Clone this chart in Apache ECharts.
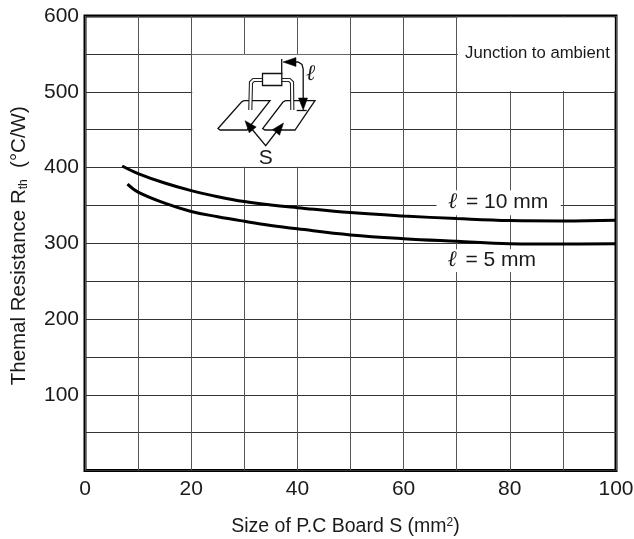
<!DOCTYPE html>
<html><head><meta charset="utf-8">
<style>html,body{margin:0;padding:0;background:#fff}#c{width:634px;height:539px}</style>
<script src="https://cdn.jsdelivr.net/npm/echarts@6/dist/echarts.min.js"></script>
</head><body><div id="c"></div>
<script>
const xValues10 = [7, 10, 15, 20, 25, 30, 35, 40, 50, 60, 70, 80, 90, 100];
const rth10 = [402, 392, 379.5, 369.5, 361.5, 355, 350.5, 347, 340.5, 336, 332.6, 330, 329.5, 330.5];
const xValues5 = [8, 10, 15, 20, 25, 30, 35, 40, 50, 60, 70, 80, 90, 100];
const rth5 = [378, 367.5, 353, 342, 335, 329, 323.5, 319, 311, 306, 302.6, 299.5, 299, 299.5];
const xTickLabels = [0, 20, 40, 60, 80, 100];
const yTickLabels = [100, 200, 300, 400, 500, 600];
const FONT = '"Liberation Sans", Arial, sans-serif';
const INK = '#1a1a1a';
const zip = (a, b) => a.map((v, i) => [v, b[i]]);
const mask = (x0, y0, x1, y1) => [{xAxis: x0, yAxis: y0}, {xAxis: x1, yAxis: y1}];
const curve = (name, data) => ({
  name, type: 'line', data, smooth: 0.4, showSymbol: false, z: 5,
  lineStyle: {color: '#000', width: 3, cap: 'butt'}
});
const black = {stroke: '#111', fill: 'none', lineWidth: 1.3};
const line = (pts, style) => ({type: 'polyline', shape: {points: pts}, style: Object.assign({}, black, style), z: 20, silent: true});
const head = (pts) => ({type: 'polygon', shape: {points: pts}, style: {fill: '#000', stroke: '#000', lineWidth: 0.5}, z: 22, silent: true});
const lead = (pts) => [line(pts, {lineWidth: 4.2, stroke: '#222'}), line(pts, {lineWidth: 2, stroke: '#fff'})];
const curveLabel = (coord, text) => ({coord, label: {show: true, position: 'inside', formatter: '{l|ℓ}{t|' + text + '}', rich: {
  l: {fontFamily: 'DejaVu Serif', fontStyle: 'italic', fontSize: 22, color: INK, padding: [0, 3, 0, 0]},
  t: {fontFamily: FONT, fontSize: 21, color: INK}}}});

const chart = echarts.init(document.getElementById('c'), null, {renderer: 'canvas'});
chart.setOption({
  animation: false,
  backgroundColor: '#fff',
  textStyle: {fontFamily: FONT},
  grid: {left: 85, right: 18, top: 16, bottom: 68.5, show: true, borderColor: '#000', borderWidth: 3, backgroundColor: '#fff', outerBoundsMode: 'none', containLabel: false},
  xAxis: {
    type: 'value', min: 0, max: 100, interval: 10,
    axisLine: {show: false}, axisTick: {show: false},
    splitLine: {show: true, lineStyle: {color: '#555', width: 1}},
    axisLabel: {
      margin: 8, color: INK, fontSize: 21, fontFamily: FONT, showMinLabel: true, showMaxLabel: true,
      formatter: v => xTickLabels.includes(v) ? String(v) : ''
    },
    name: '{n|Size of P.C Board S (mm}{s|2}{n|)}',
    nameLocation: 'middle', nameGap: 46,
    nameTextStyle: {padding: [0, 10, 0, 0], rich: {
      n: {fontSize: 19.5, color: INK, fontFamily: FONT},
      s: {fontSize: 12, color: INK, fontFamily: FONT, verticalAlign: 'top', padding: [0, 0, 8, 0]}
    }}
  },
  yAxis: {
    type: 'value', min: 0, max: 600, interval: 50,
    axisLine: {show: false}, axisTick: {show: false},
    splitLine: {show: true, lineStyle: {color: '#333', width: 1}},
    axisLabel: {
      margin: 6, color: INK, fontSize: 21, fontFamily: FONT,
      formatter: v => yTickLabels.includes(v) ? String(v) : ''
    },
    name: '{n|Themal Resistance R}{s|th}{n|  (°C/W)}',
    nameLocation: 'middle', nameGap: 55, nameRotate: 90,
    nameTextStyle: {padding: [0, 5, 0, 0], rich: {
      n: {fontSize: 20.5, color: INK, fontFamily: FONT},
      s: {fontSize: 12, color: INK, fontFamily: FONT, verticalAlign: 'bottom', padding: [6, 0, 0, 0]}
    }}
  },
  series: [
    Object.assign(curve('l = 10 mm', zip(xValues10, rth10)), {
      markArea: {
        silent: true, z: 2,
        itemStyle: {color: '#fff', borderWidth: 0},
        data: [
          mask(20.2, 549, 49.9, 401),
          mask(70.2, 598, 99.75, 501),
          mask(66.2, 370, 89.6, 337),
          mask(66.2, 292, 89.6, 262)
        ]
      },
      markPoint: {
        silent: true, symbol: 'circle', symbolSize: 0, z: 8,
        data: [
          curveLabel([77.8, 354], ' = 10 mm'),
          curveLabel([76.6, 278], ' = 5 mm'),
          {coord: [85.2, 550], label: {show: true, position: 'inside', formatter: 'Junction to ambient', fontFamily: FONT, fontSize: 16.7, color: INK}}
        ]
      }
    }),
    curve('l = 5 mm', zip(xValues5, rth5))
  ],
  graphic: [
    // left and right copper pads
    line([[244, 100.7], [270, 100.7], [247, 130], [220, 130], [218, 128.5], [241.5, 102], [244, 100.7]]),
    line([[285.5, 100.7], [315, 100.7], [295, 130], [265, 130], [262.7, 128.5], [283, 102], [285.5, 100.7]]),
    // component leads
    ...lead([[262.3, 80], [253.5, 80], [251, 82.5], [250.3, 110]]),
    ...lead([[281.7, 80], [289.5, 80], [292, 82.5], [292.3, 110]]),
    // body
    {type: 'rect', shape: {x: 262.5, y: 73.5, width: 19.3, height: 12}, style: {fill: '#fff', stroke: '#111', lineWidth: 1.3}, z: 21, silent: true},
    // dimension l
    line([[281.7, 59], [281.7, 74]]),
    line([[290, 62], [298, 62], [302, 64.5], [303.2, 69], [303.2, 100]]),
    head([[283, 62], [296, 57.5], [296, 66.5]]),
    head([[303.2, 110], [298.5, 98], [307.5, 98]]),
    line([[296.7, 110.5], [306.7, 110.5]]),
    {type: 'text', x: 306, y: 63, style: {text: 'ℓ', font: 'italic 22px "DejaVu Serif"', fill: INK}, z: 22, silent: true},
    // S with pointers
    line([[251, 128], [265.7, 145.7], [277, 131]]),
    head([[245, 120.7], [249.2, 132.8], [256.2, 127]]),
    head([[283.5, 123], [272.6, 129.6], [279.6, 135.2]]),
    {type: 'text', x: 265.7, y: 148, style: {text: 'S', font: '21px ' + FONT, fill: INK, align: 'center', verticalAlign: 'top'}, z: 22, silent: true}
  ]
});
</script></body></html>
